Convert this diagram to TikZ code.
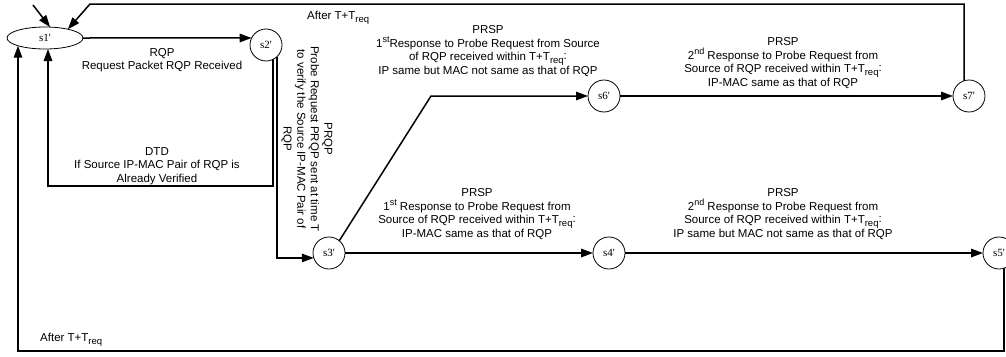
\documentclass[tikz,border=0pt]{standalone}
\usepackage{fontspec}
\setmainfont{Liberation Sans}
\newfontfamily\statefont{Liberation Serif}
\usetikzlibrary{arrows.meta,shapes.geometric}
\newcommand{\Treq}{T\raisebox{-0.45ex}{\fontsize{9.5}{10}\selectfont req}}
\newcommand{\supx}[1]{\raisebox{0.75ex}{\fontsize{9}{10}\selectfont #1}}
\newcommand{\rcolon}{\raisebox{0.25ex}{:}}
\begin{document}
\begin{tikzpicture}[x=1pt,y=1pt,
  state/.style={draw,circle,line width=0.8pt,minimum size=32pt,inner sep=0pt,outer sep=0pt,font=\statefont\fontsize{11}{12}\selectfont},
  startstate/.style={draw,ellipse,line width=0.8pt,minimum width=76pt,minimum height=22pt,inner sep=0pt,outer sep=0pt,font=\statefont\fontsize{11}{12}\selectfont},
  arr/.style={line width=1.5pt,-{Triangle[length=12pt,width=8.5pt]}},
  lbl/.style={align=center,inner sep=0pt,font=\fontsize{11.5}{13.6}\selectfont}]
\clip (0,0) rectangle (1006,-356);
\fill[white] (0,0) rectangle (1006,-356);
% states
\node[startstate] (s1) at (45,-38) {s1'};
\node[state] (s2) at (266,-45) {s2'};
\node[state] (s3) at (329,-253) {s3'};
\node[state] (s4) at (609,-253) {s4'};
\node[state] (s5) at (999,-253) {s5'};
\node[state] (s6) at (604,-96) {s6'};
\node[state] (s7) at (969,-96) {s7'};
% helper coordinates
\coordinate (init) at (33,-5);
\coordinate (t1) at (90,-4);
\coordinate (d1) at (48,-186);
\coordinate (b1) at (18,-351);
\coordinate (c6) at (431,-96);
% connectors
\draw[arr] (init) -- (s1.65);
\draw[arr] (s1.east) -- (s2.154);
\draw[arr] (s2.-64) |- (d1) -- (s1.south -| d1);
\draw[arr] (s2.-47) |- (s3.198);
\draw[arr] (s3.50) -- (c6) -- (s6.west);
\draw[arr] (s6.east) -- (s7.west);
\draw[arr] (s3.east) -- (s4.west);
\draw[arr] (s4.east) -- (s5.west);
\draw[arr] (s7.108) |- (t1) -- (s1.21);
\draw[arr] (s5.-72) |- (b1) -- (b1 |- s1.196);
% labels
\node[lbl] (lrqp) at (162,-60) {RQP\\Request Packet RQP Received};
\node[lbl] (ldtd) at (157,-166) {DTD\\If Source IP-MAC Pair of RQP is\\Already Verified};
\node[lbl,anchor=west] (lafter1) at (307,-18) {After T+\Treq};
\node[lbl,anchor=west] (lafter2) at (40,-340) {After T+\Treq};
\node[lbl,rotate=-90] (lprqp) at (307,-139) {PRQP\\Probe Request PRQP sent at time T\\to verify the Source IP-MAC Pair of\\RQP};
\node[lbl] (l36) at (488,-51) {PRSP\\1\supx{st}Response to Probe Request from Source\\of RQP received within T+\Treq\rcolon\\IP same but MAC not same as that of RQP};
\node[lbl] (l67) at (783,-63) {PRSP\\2\supx{nd} Response to Probe Request from\\Source of RQP received within T+\Treq\rcolon\\IP-MAC same as that of RQP};
\node[lbl] (l34) at (477,-214) {PRSP\\1\supx{st} Response to Probe Request from\\Source of RQP received within T+\Treq\rcolon\\IP-MAC same as that of RQP};
\node[lbl] (l45) at (783,-214) {PRSP\\2\supx{nd} Response to Probe Request from\\Source of RQP received within T+\Treq\rcolon\\IP same but MAC not same as that of RQP};
\end{tikzpicture}
\end{document}
